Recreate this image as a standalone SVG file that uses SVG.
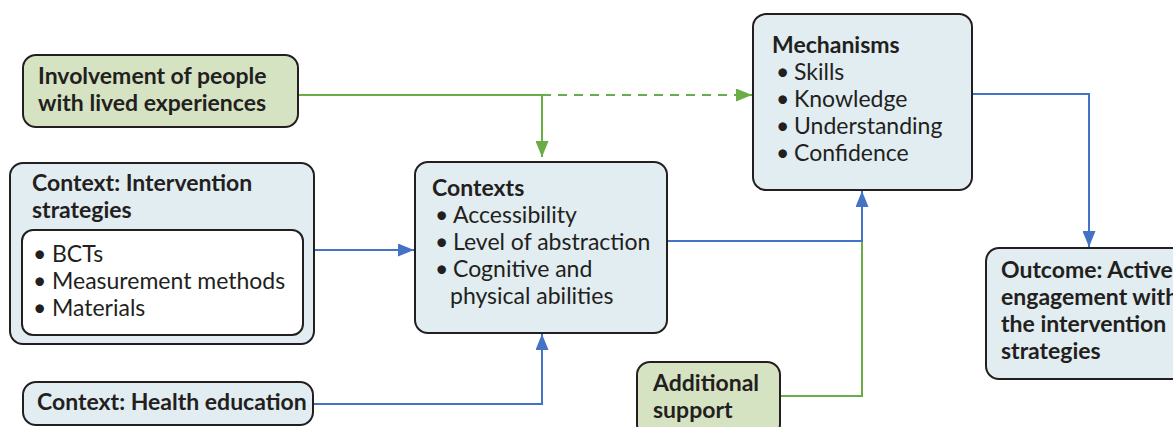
<svg xmlns="http://www.w3.org/2000/svg" width="1173" height="427" viewBox="0 0 1173 427">
<style>
.box{stroke:#231f20;stroke-width:2}
.g{fill:#d5e3c3}
.b{fill:#e1edf1}
.w{fill:#ffffff}
text{font-family:Lato,"Open Sans","Liberation Sans",sans-serif;font-size:23px;fill:#231f20}
.t{font-weight:bold}
.cg{stroke:#6aac46;stroke-width:2;fill:none}
.cb{stroke:#4472c4;stroke-width:2;fill:none}
</style>
<defs>
<marker id="ag" viewBox="0 0 16 13" refX="16" refY="6.5" markerWidth="16" markerHeight="13" markerUnits="userSpaceOnUse" orient="auto"><path d="M0,0 L16,6.5 L0,13 Z" fill="#6aac46"/></marker>
<marker id="ab" viewBox="0 0 16 13" refX="16" refY="6.5" markerWidth="16" markerHeight="13" markerUnits="userSpaceOnUse" orient="auto"><path d="M0,0 L16,6.5 L0,13 Z" fill="#4472c4"/></marker>
</defs>
<g id="connectors">
<path class="cg" d="M298,95 H542"/>
<path class="cg" d="M542,95 V157" marker-end="url(#ag)"/>
<path class="cg" d="M542,95 H752" stroke-dasharray="9,7" marker-end="url(#ag)"/>
<path class="cb" d="M314,250 H414" marker-end="url(#ab)"/>
<path class="cb" d="M313,404 H542 V334" marker-end="url(#ab)"/>
<path class="cg" d="M780,396 H862 V241"/>
<path class="cb" d="M667,241 H862 V191" marker-end="url(#ab)"/>
<path class="cb" d="M972,94 H1089 V247" marker-end="url(#ab)"/>
</g>
<g id="involvement">
<rect class="box g" x="23" y="55" width="275" height="72" rx="13"/>
<text class="t" x="38" y="84">Involvement of people</text>
<text class="t" x="38" y="111">with lived experiences</text>
</g>
<g id="intervention">
<rect class="box b" x="10" y="163" width="304" height="181" rx="13"/>
<text class="t" x="32" y="191">Context: Intervention</text>
<text class="t" x="32" y="218">strategies</text>
<rect class="box w" x="22" y="230" width="281" height="105" rx="11"/>
<text y="262"><tspan x="33">•</tspan><tspan x="52">BCTs</tspan></text>
<text y="289"><tspan x="33">•</tspan><tspan x="52">Measurement methods</tspan></text>
<text y="316"><tspan x="33">•</tspan><tspan x="52">Materials</tspan></text>
</g>
<g id="health">
<rect class="box b" x="23" y="382" width="290" height="43" rx="13"/>
<text class="t" x="37" y="410">Context: Health education</text>
</g>
<g id="contexts">
<rect class="box b" x="415" y="162" width="252" height="171" rx="13"/>
<text class="t" x="432" y="196">Contexts</text>
<text y="223"><tspan x="435">•</tspan><tspan x="453">Accessibility</tspan></text>
<text y="250"><tspan x="435">•</tspan><tspan x="453">Level of abstraction</tspan></text>
<text y="277"><tspan x="435">•</tspan><tspan x="453">Cognitive and</tspan></text>
<text x="450" y="304">physical abilities</text>
</g>
<g id="mechanisms">
<rect class="box b" x="753" y="14" width="219" height="176" rx="13"/>
<text class="t" x="772" y="53">Mechanisms</text>
<text y="80"><tspan x="776">•</tspan><tspan x="794">Skills</tspan></text>
<text y="107"><tspan x="776">•</tspan><tspan x="794">Knowledge</tspan></text>
<text y="134"><tspan x="776">•</tspan><tspan x="794">Understanding</tspan></text>
<text y="161"><tspan x="776">•</tspan><tspan x="794">Confidence</tspan></text>
</g>
<g id="additional">
<rect class="box g" x="637" y="362" width="143" height="75" rx="13"/>
<text class="t" x="653" y="391">Additional</text>
<text class="t" x="653" y="418">support</text>
</g>
<g id="outcome">
<rect class="box b" x="986" y="248" width="210" height="131" rx="13"/>
<text class="t" x="1001" y="278">Outcome: Active</text>
<text class="t" x="1001" y="305">engagement with</text>
<text class="t" x="1001" y="332">the intervention</text>
<text class="t" x="1001" y="359">strategies</text>
</g>
</svg>
